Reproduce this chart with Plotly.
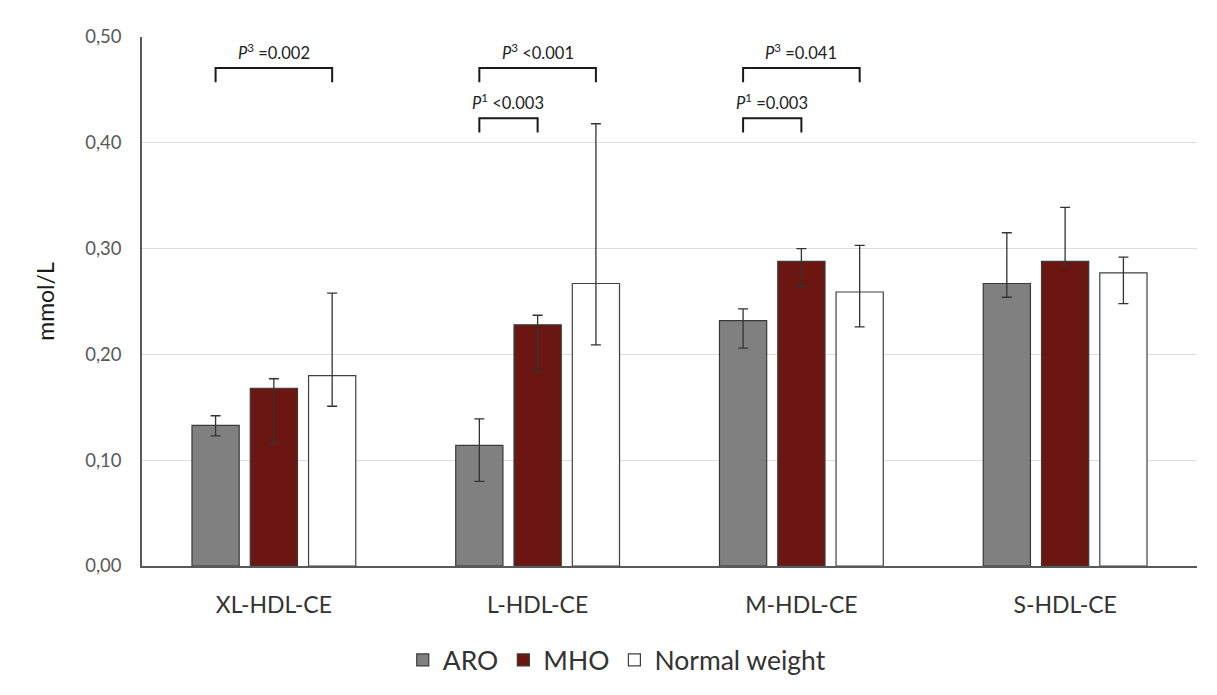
import plotly.graph_objects as go

categories = ["XL-HDL-CE", "L-HDL-CE", "M-HDL-CE", "S-HDL-CE"]
groups = ["ARO", "MHO", "Normal weight"]

aro = [0.133, 0.114, 0.232, 0.267]
aro_hi = [0.142, 0.139, 0.243, 0.315]
aro_lo = [0.123, 0.080, 0.206, 0.254]

mho = [0.168, 0.228, 0.288, 0.288]
mho_hi = [0.177, 0.237, 0.300, 0.339]
mho_lo = [0.116, 0.184, 0.264, 0.284]

nw = [0.180, 0.267, 0.259, 0.277]
nw_hi = [0.258, 0.418, 0.303, 0.292]
nw_lo = [0.151, 0.209, 0.226, 0.248]

ytick_vals = [0.0, 0.1, 0.2, 0.3, 0.4, 0.5]
ytick_text = ["0,00", "0,10", "0,20", "0,30", "0,40", "0,50"]

# comparisons: (category index, from group, to group, level, label)
comparisons = [
    (0, 0, 2, 0.4707, "<i>P</i><sup>3</sup> =0.002"),
    (1, 0, 2, 0.4707, "<i>P</i><sup>3</sup> <0.001"),
    (1, 0, 1, 0.4232, "<i>P</i><sup>1</sup> <0.003"),
    (2, 0, 2, 0.4707, "<i>P</i><sup>3</sup> =0.041"),
    (2, 0, 1, 0.4232, "<i>P</i><sup>1</sup> =0.003"),
]

colors = ["#808080", "#6b1610", "#ffffff"]
line_colors = ["#3a3a3a", "#3a3a3a", "#404040"]
series = [(aro, aro_hi, aro_lo), (mho, mho_hi, mho_lo), (nw, nw_hi, nw_lo)]

BARGAP = 0.337
BARGROUPGAP = 0.19

fig = go.Figure()
for name, (vals, hi, lo), c, lc in zip(groups, series, colors, line_colors):
    fig.add_trace(go.Bar(
        x=categories, y=vals, name=name,
        marker=dict(color=c, line=dict(color=lc, width=1.2)),
        error_y=dict(type="data", symmetric=False,
                     array=[h - v for h, v in zip(hi, vals)],
                     arrayminus=[v - l for l, v in zip(lo, vals)],
                     color="#333333", thickness=1.3, width=5),
    ))

slot = (1 - BARGAP) / len(groups)
shapes = []
annotations = []
leg = 0.0135
for ci, g1, g2, level, label in comparisons:
    x1 = ci + (g1 - 1) * slot
    x2 = ci + (g2 - 1) * slot
    shapes.append(dict(type="path", xref="x", yref="y",
                       path=f"M {x1},{level - leg} L {x1},{level} L {x2},{level} L {x2},{level - leg}",
                       line=dict(color="#1a1a1a", width=2)))
    annotations.append(dict(x=(x1 + x2) / 2, y=level + 0.003, xref="x", yref="y",
                            text=label, showarrow=False, yanchor="bottom",
                            font=dict(size=16.5, color="#222222", family="Lato")))

fig.update_layout(
    width=1217, height=695,
    margin=dict(l=134, r=28, t=29, b=137),
    paper_bgcolor="white", plot_bgcolor="white",
    barmode="group", bargap=BARGAP, bargroupgap=BARGROUPGAP,
    font=dict(family="Lato", color="#404040"),
    shapes=shapes, annotations=annotations,
    legend=dict(orientation="h", x=0.45, xanchor="center", y=-0.178, yanchor="middle",
                font=dict(size=26.5, color="#333333"), itemwidth=30,
                traceorder="normal"),
)
fig.update_xaxes(showline=True, linecolor="#595959", linewidth=1.5,
                 tickfont=dict(size=23, color="#333333"), ticks="", ticklabelstandoff=18)
fig.update_yaxes(range=[0, 0.5], tickvals=ytick_vals, ticktext=ytick_text,
                 showline=True, linecolor="#595959", linewidth=1.5,
                 gridcolor="#dedede", gridwidth=1, zeroline=False,
                 tickfont=dict(size=18.5, color="#595959"), ticks="", ticklabelstandoff=15,
                 title=dict(text="mmol/L", font=dict(size=23, color="#1a1a1a"), standoff=24))

fig.write_html("out.html")
